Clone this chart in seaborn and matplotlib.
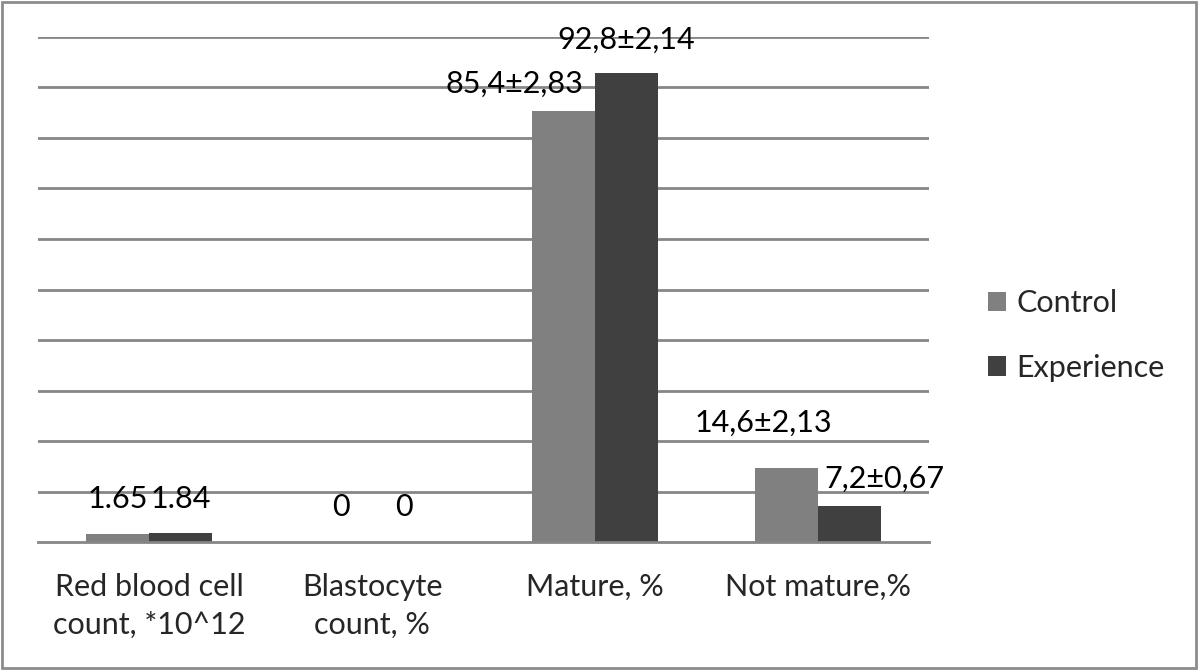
import matplotlib
matplotlib.use("Agg")
import matplotlib.pyplot as plt
import seaborn as sns
import pandas as pd
import numpy as np
from matplotlib.patches import Rectangle

# data
categories = ["Red blood cell\ncount, *10^12", "Blastocyte\ncount, %", "Mature, %", "Not mature,%"]
control = [1.65, 0, 85.4, 14.6]
experience = [1.84, 0, 92.8, 7.2]
control_labels = ["1.65", "0", "85,4±2,83", "14,6±2,13"]
experience_labels = ["1.84", "0", "92,8±2,14", "7,2±0,67"]

df = pd.DataFrame({
    "category": categories * 2,
    "value": control + experience,
    "group": ["Control"] * 4 + ["Experience"] * 4,
})

sns.set_theme(style="white")
plt.rcParams["font.family"] = ["Lato", "DejaVu Sans"]
FS = 22

fig = plt.figure(figsize=(12, 6.71), dpi=100)
ax = fig.add_axes([0.0317, 0.192, 0.7425, 0.753])

sns.barplot(data=df, x="category", y="value", hue="group",
            palette=["#808080", "#404040"], width=0.566, saturation=1,
            linewidth=0, ax=ax, legend=True)

ax.set_ylim(0, 100)
ax.set_xlim(-0.5, 3.5)
ax.set_yticks(np.arange(10, 101, 10))
ax.yaxis.grid(True, color="#868686", linewidth=2)
ax.set_axisbelow(True)
ax.tick_params(axis="y", left=False, labelleft=False)
ax.set_xlabel("")
ax.set_ylabel("")
for s in ["left", "right", "top"]:
    ax.spines[s].set_visible(False)
ax.spines["bottom"].set_color("#868686")
ax.spines["bottom"].set_linewidth(2)

ax.set_xticks(np.arange(-0.5, 3.6, 1), minor=True)
ax.tick_params(axis="x", which="minor", length=8, width=2, color="#868686", direction="out")
ax.tick_params(axis="x", which="major", length=0, pad=22, labelsize=FS)
for t in ax.get_xticklabels():
    t.set_linespacing(1.45)
    t.set_va("top")

# value labels, offsets in pixels from top centre of each bar
ctrl_off = [(0, 35), (0, 35), (-49, 27), (-23, 46)]
exp_off = [(0, 34), (0, 35), (0, 34), (35, 27)]
bars = [p for p in ax.patches if p.get_width() > 0][:8]
for i, p in enumerate(bars):
    if i < 4:
        lab, off = control_labels[i], ctrl_off[i]
    else:
        lab, off = experience_labels[i - 4], exp_off[i - 4]
    ax.annotate(lab, (p.get_x() + p.get_width() / 2, p.get_height()),
                xytext=off, textcoords="offset pixels",
                ha="center", va="center", fontsize=FS, color="black")

leg = ax.legend(loc="center left", bbox_to_anchor=(0.8, 0.5), bbox_transform=fig.transFigure,
                frameon=False, fontsize=FS, handlelength=0.6, handleheight=0.6,
                handletextpad=0.35, labelspacing=1.2)

fig.patches.append(Rectangle((0.002, 0.004), 0.995, 0.993, transform=fig.transFigure,
                             fill=False, edgecolor="#8c8c8c", linewidth=2))

fig.savefig("out.png", dpi=100)
